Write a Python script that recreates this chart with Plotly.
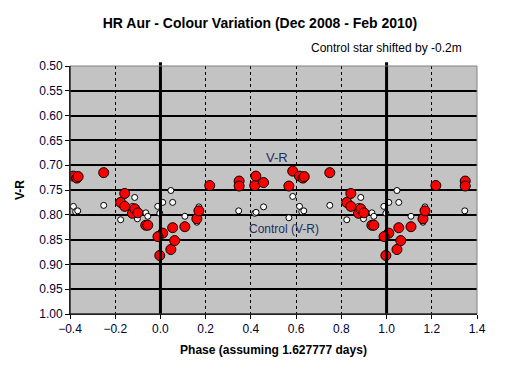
import plotly.graph_objects as go

# Base phase data (phase in [0,1))
vr_phase = [0.010, 0.046, 0.054, 0.063, 0.108, 0.161, 0.170, 0.218, 0.348, 0.348,
            0.417, 0.422, 0.456, 0.568, 0.585, 0.615, 0.630, 0.636, 0.749, 0.824,
            0.842, 0.842, 0.876, 0.886, 0.900, 0.935, 0.944, 0.989, 0.997]
vr_value = [0.837, 0.870, 0.826, 0.852, 0.824, 0.808, 0.792, 0.741, 0.732, 0.742,
            0.741, 0.722, 0.735, 0.742, 0.712, 0.722, 0.726, 0.723, 0.715, 0.775,
            0.757, 0.783, 0.797, 0.788, 0.796, 0.821, 0.821, 0.844, 0.882]

ctl_phase = [0.010, 0.046, 0.054, 0.108, 0.161, 0.170, 0.346, 0.417, 0.423, 0.456,
             0.568, 0.585, 0.615, 0.625, 0.634, 0.749, 0.824, 0.876, 0.886, 0.898,
             0.935, 0.944, 0.988, 0.997]
ctl_value = [0.775, 0.751, 0.775, 0.803, 0.815, 0.784, 0.792, 0.797, 0.795, 0.784,
             0.806, 0.763, 0.783, 0.794, 0.792, 0.781, 0.810, 0.783, 0.765, 0.808,
             0.796, 0.803, 0.783, 0.797]

x_ticks = [-0.4, -0.2, 0.0, 0.2, 0.4, 0.6, 0.8, 1.0, 1.2, 1.4]
y_ticks = [0.50, 0.55, 0.60, 0.65, 0.70, 0.75, 0.80, 0.85, 0.90, 0.95, 1.00]


def fold(ph, val, lo=-0.4, hi=1.4):
    xs, ys = [], []
    for p, v in zip(ph, val):
        for s in (-1, 0, 1):
            q = p + s
            if lo <= q <= hi:
                xs.append(q)
                ys.append(v)
    return xs, ys


vx, vy = fold(vr_phase, vr_value)
cx, cy = fold(ctl_phase, ctl_value)

FONT = "Arial, Liberation Sans, sans-serif"

# page body has an 8px default margin
OFF = 8
W, H = 513, 365
L, R, T, B = 62, 44, 58, 59
PW, PH = W - L - R, H - T - B


def px(sx):
    return (sx - OFF - L) / PW


def py(sy):
    return (H - B - (sy - OFF)) / PH


fig = go.Figure()
fig.add_trace(go.Scatter(x=cx, y=cy, mode="markers", name="Control (V-R)",
                         marker=dict(symbol="circle", size=6, color="white",
                                     line=dict(color="black", width=1))))
fig.add_trace(go.Scatter(x=vx, y=vy, mode="markers", name="V-R",
                         marker=dict(symbol="circle", size=10, color="#ff0000",
                                     line=dict(color="black", width=1))))

for xv in (0.0, 1.0):
    fig.add_shape(type="line", x0=xv, x1=xv, y0=0, y1=1.015, xref="x", yref="paper",
                  line=dict(color="black", width=3), layer="above")

font_axis = dict(family=FONT, size=12, color="#000033")

fig.update_layout(
    width=W, height=H,
    margin=dict(l=L, r=R, t=T, b=B, autoexpand=False),
    paper_bgcolor="white",
    plot_bgcolor="#c3c3c3",
    showlegend=False,
    title=dict(text="<b>HR Aur - Colour Variation (Dec 2008 - Feb 2010)</b>",
               x=px(260), xref="paper", xanchor="center",
               y=1 - (23 - OFF) / H, yanchor="middle",
               font=dict(family=FONT, size=14, color="black")),
    xaxis=dict(range=[-0.4, 1.4], tickvals=x_ticks, tickformat=".1f",
               showgrid=True, gridcolor="black", griddash="3px,3px", gridwidth=1,
               zeroline=False, showline=True, linecolor="black", linewidth=1,
               ticks="outside", ticklen=4, tickcolor="black",
               tickfont=font_axis, automargin=False,
               title=dict(text="<b>Phase (assuming 1.627777 days)</b>", standoff=10,
                          font=dict(family=FONT, size=12, color="black"))),
    yaxis=dict(range=[1.0, 0.5], tickvals=y_ticks, tickformat=".2f",
               showgrid=True, gridcolor="black", gridwidth=1.5,
               zeroline=False, showline=True, linecolor="black", linewidth=1,
               ticks="outside", ticklen=4, tickcolor="black",
               tickfont=font_axis, automargin=False,
               title=dict(text="<b>V-R</b>", standoff=12,
                          font=dict(family=FONT, size=12, color="black"))),
    annotations=[
        dict(text="Control star shifted by -0.2m",
             x=px(386), y=py(48),
             xref="paper", yref="paper", xanchor="center", yanchor="middle",
             showarrow=False, font=dict(family=FONT, size=12, color="black")),
        dict(text="V-R", x=0.515, y=0.685, xref="x", yref="y", showarrow=False,
             font=dict(family=FONT, size=13, color="#1c2f5c")),
        dict(text="Control (V-R)", x=0.546, y=0.828, xref="x", yref="y", showarrow=False,
             font=dict(family=FONT, size=12, color="#1c2f5c")),
    ],
)
fig.add_shape(type="rect", x0=0, x1=1, y0=0, y1=1, xref="paper", yref="paper",
              line=dict(color="#808080", width=1), layer="above")
fig.add_shape(type="line", x0=0, x1=0, y0=0, y1=1, xref="paper", yref="paper",
              line=dict(color="black", width=1), layer="above")
fig.add_shape(type="line", x0=0, x1=1, y0=0, y1=0, xref="paper", yref="paper",
              line=dict(color="black", width=1), layer="above")

fig.write_html("out.html")
